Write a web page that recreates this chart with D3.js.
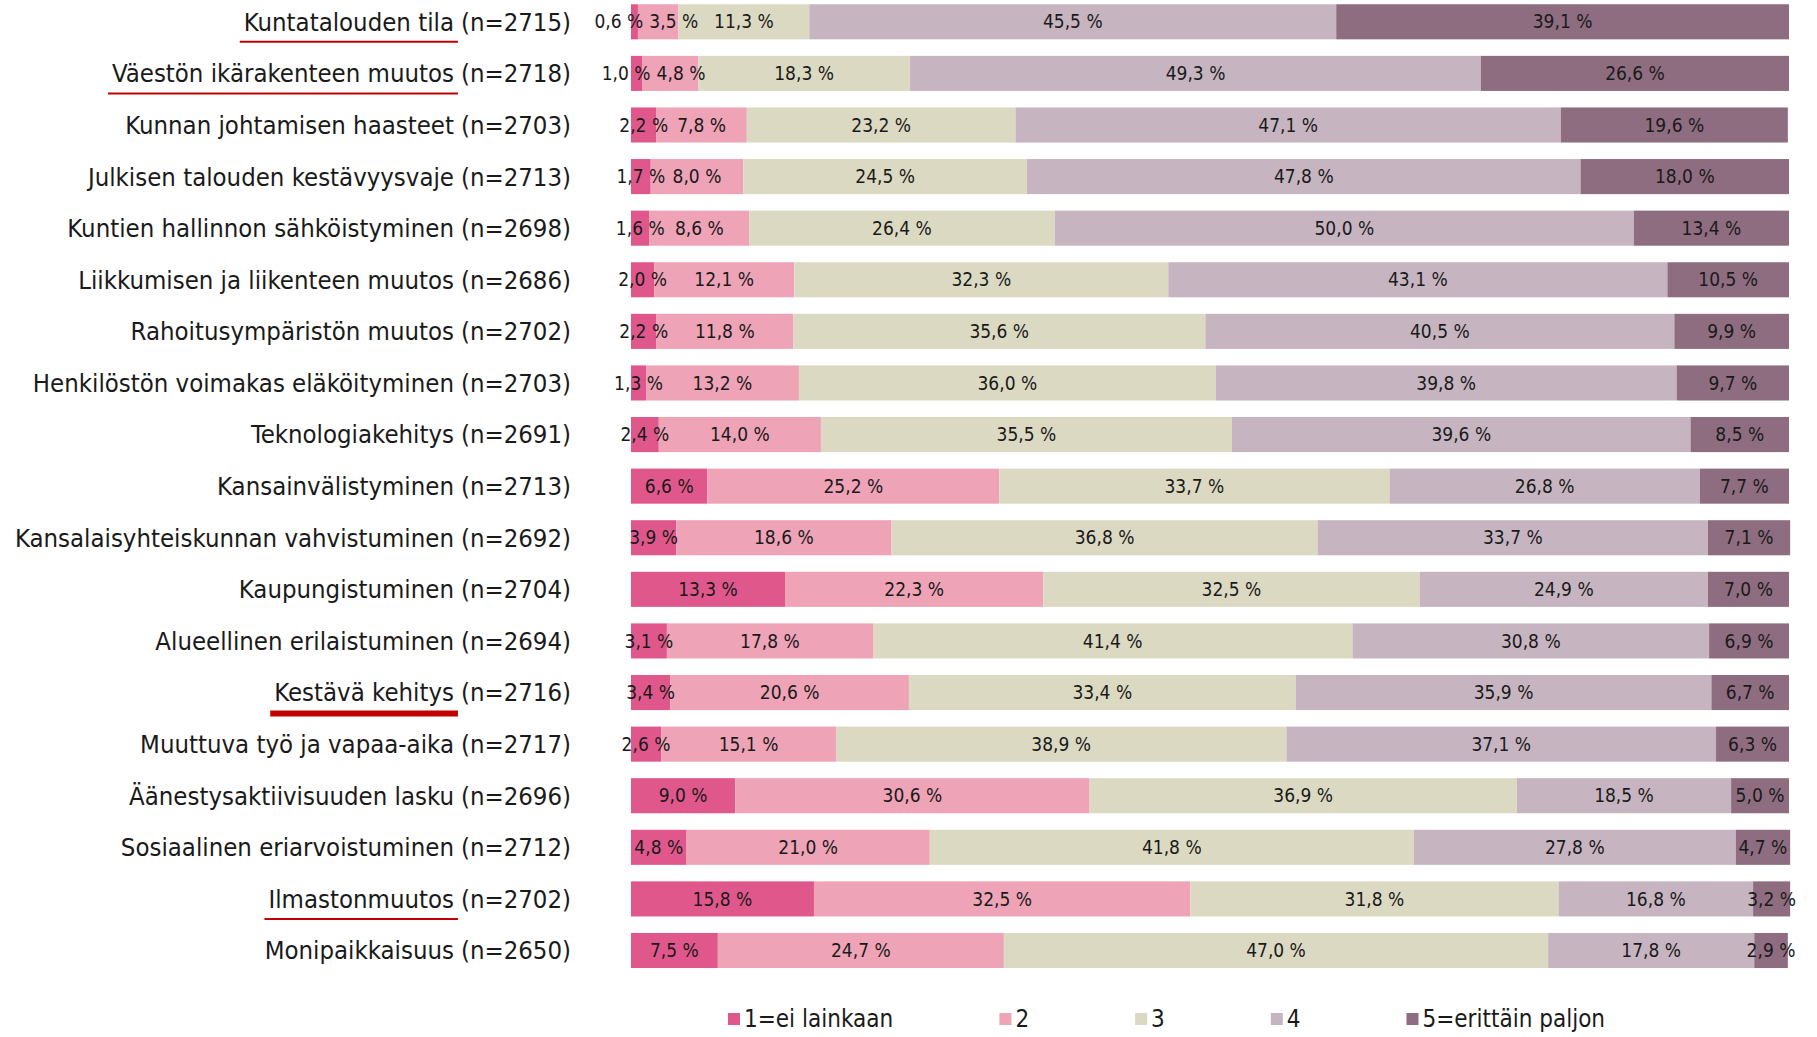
<!DOCTYPE html>
<html>
<head>
<meta charset="utf-8">
<script src="https://cdn.jsdelivr.net/npm/d3@7"></script>
<style>
  body { margin: 0; background: #fff; }
  svg text { font-family: "DejaVu Sans Condensed", "DejaVu Sans", sans-serif; fill: #1a1a1a; }
</style>
</head>
<body>
<svg id="chart"></svg>
<script>
var topics = ["Kuntatalouden tila", "Väestön ikärakenteen muutos", "Kunnan johtamisen haasteet",
    "Julkisen talouden kestävyysvaje", "Kuntien hallinnon sähköistyminen", "Liikkumisen ja liikenteen muutos",
    "Rahoitusympäristön muutos", "Henkilöstön voimakas eläköityminen", "Teknologiakehitys",
    "Kansainvälistyminen", "Kansalaisyhteiskunnan vahvistuminen", "Kaupungistuminen",
    "Alueellinen erilaistuminen", "Kestävä kehitys", "Muuttuva työ ja vapaa-aika",
    "Äänestysaktiivisuuden lasku", "Sosiaalinen eriarvoistuminen", "Ilmastonmuutos", "Monipaikkaisuus"];
var counts = [2715, 2718, 2703, 2713, 2698, 2686, 2702, 2703, 2691, 2713, 2692, 2704, 2694, 2716, 2717, 2696, 2712, 2702, 2650];

// shares (%) per answer level
var level1 = [0.6, 1.0, 2.2, 1.7, 1.6, 2.0, 2.2, 1.3, 2.4, 6.6, 3.9, 13.3, 3.1, 3.4, 2.6, 9.0, 4.8, 15.8, 7.5];
var level2 = [3.5, 4.8, 7.8, 8.0, 8.6, 12.1, 11.8, 13.2, 14.0, 25.2, 18.6, 22.3, 17.8, 20.6, 15.1, 30.6, 21.0, 32.5, 24.7];
var level3 = [11.3, 18.3, 23.2, 24.5, 26.4, 32.3, 35.6, 36.0, 35.5, 33.7, 36.8, 32.5, 41.4, 33.4, 38.9, 36.9, 41.8, 31.8, 47.0];
var level4 = [45.5, 49.3, 47.1, 47.8, 50.0, 43.1, 40.5, 39.8, 39.6, 26.8, 33.7, 24.9, 30.8, 35.9, 37.1, 18.5, 27.8, 16.8, 17.8];
var level5 = [39.1, 26.6, 19.6, 18.0, 13.4, 10.5, 9.9, 9.7, 8.5, 7.7, 7.1, 7.0, 6.9, 6.7, 6.3, 5.0, 4.7, 3.2, 2.9];

var legendLabels = ["1=ei lainkaan", "2", "3", "4", "5=erittäin paljon"];
var colors = ["#e0588b", "#eea3b7", "#dcd9c2", "#c6b5c0", "#8e6d80"];

// topics underlined in red: 1 = thin line, 2 = thick line
var highlighted = {"Kuntatalouden tila": 1, "Väestön ikärakenteen muutos": 1, "Kestävä kehitys": 2, "Ilmastonmuutos": 1};

var width = 1817, height = 1037;
var svg = d3.select("#chart").attr("width", width).attr("height", height);

var levels = [level1, level2, level3, level4, level5];
var data = topics.map(function(t, i) {
    var row = {topic: t, n: counts[i]};
    levels.forEach(function(l, k) { row["k" + k] = l[i]; });
    return row;
});
var keys = ["k0", "k1", "k2", "k3", "k4"];
var series = d3.stack().keys(keys)(data);

var x = d3.scaleLinear().domain([0, 100]).range([631, 1789]);
var y = d3.scaleBand().domain(topics).range([-4, 976.3]).paddingInner(0.32).paddingOuter(0.16);

var fmt = function(v) { return d3.format(".1f")(v).replace(".", ",") + " %"; };

var groups = svg.selectAll(".serie")
    .data(series)
    .enter().append("g")
    .attr("class", "serie")
    .attr("fill", function(d, i) { return colors[i]; });

groups.selectAll("rect")
    .data(function(d) { return d; })
    .enter().append("rect")
    .attr("x", function(d) { return x(d[0]); })
    .attr("y", function(d) { return y(d.data.topic); })
    .attr("width", function(d) { return x(d[1]) - x(d[0]); })
    .attr("height", y.bandwidth());

// value labels, drawn after all bars so they sit on top
var valLayer = svg.append("g").attr("class", "values");
data.forEach(function(d, r) {
    var cy = y(d.topic) + y.bandwidth() / 2;
    var items = series.map(function(s) {
        var seg = s[r];
        var t = valLayer.append("text")
            .attr("y", cy)
            .attr("dy", "0.35em")
            .style("text-anchor", "middle")
            .style("font-size", "19px")
            .text(fmt(seg[1] - seg[0]));
        return {node: t, c: (x(seg[0]) + x(seg[1])) / 2, w: t.node().getComputedTextLength()};
    });
    // push neighbouring labels apart when they would overlap
    for (var pass = 0; pass < 20; pass++) {
        for (var i = 0; i < items.length - 1; i++) {
            var a = items[i], b = items[i + 1];
            var over = (a.c + a.w / 2 + 6) - (b.c - b.w / 2);
            if (over > 0) { a.c -= over / 2; b.c += over / 2; }
        }
    }
    items.forEach(function(it) { it.node.attr("x", it.c); });
});

// category labels
var labelRight = 571;
var labels = svg.append("g").attr("class", "labels");
data.forEach(function(d) {
    var cy = y(d.topic) + y.bandwidth() / 2;
    var nText = labels.append("text")
        .attr("x", labelRight)
        .attr("y", cy)
        .attr("dy", "0.35em")
        .style("text-anchor", "end")
        .style("font-size", "25.5px")
        .text("(n=" + d.n + ")");
    var nx = labelRight - nText.node().getComputedTextLength() - 7;
    var name = labels.append("text")
        .attr("x", nx)
        .attr("y", cy)
        .attr("dy", "0.35em")
        .style("text-anchor", "end")
        .style("font-size", "25.5px")
        .text(d.topic);
    var mark = highlighted[d.topic];
    if (mark) {
        var w = name.node().getComputedTextLength();
        labels.append("line")
            .attr("x1", nx - w - 4)
            .attr("x2", nx + 4)
            .attr("y1", cy + (mark === 2 ? 21 : 20))
            .attr("y2", cy + (mark === 2 ? 21 : 20))
            .style("stroke", "#c00000")
            .style("stroke-width", mark === 2 ? 6 : 2);
    }
});

// legend
var legendX = d3.scaleLinear().domain([0, 1]).range([728, 863.7]);
var slots = [0, 2, 3, 4, 5];
var legend = svg.append("g").attr("class", "legend")
    .selectAll("g")
    .data(legendLabels)
    .enter().append("g")
    .attr("transform", function(d, i) { return "translate(" + legendX(slots[i]) + ",1019)"; });

legend.append("rect")
    .attr("x", 0)
    .attr("y", -6)
    .attr("width", 12)
    .attr("height", 12)
    .attr("fill", function(d, i) { return colors[i]; });

legend.append("text")
    .attr("x", 16)
    .attr("y", 0)
    .attr("dy", "0.35em")
    .style("font-size", "24px")
    .text(function(d) { return d; });
</script>
</body>
</html>
